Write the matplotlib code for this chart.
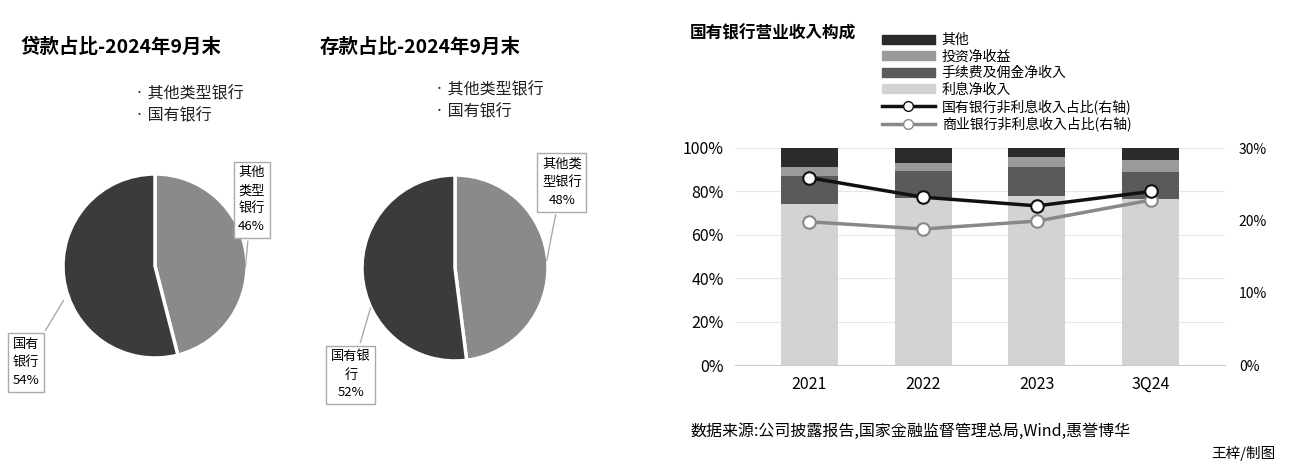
import matplotlib
matplotlib.use("Agg")
import matplotlib.pyplot as plt
import numpy as np
from matplotlib.lines import Line2D
from matplotlib.patches import Patch

plt.rcParams["font.family"] = "sans-serif"
plt.rcParams["font.sans-serif"] = ["Noto Sans CJK JP", "Noto Sans CJK SC", "Noto Sans CJK TC", "Noto Sans CJK KR", "DejaVu Sans"]

pie_labels = ["其他类型银行", "国有银行"]
loan_share = [46, 54]
deposit_share = [48, 52]

years = ["2021", "2022", "2023", "3Q24"]
interest = [74.4, 77.0, 78.0, 76.4]
fee = [12.6, 12.3, 13.3, 12.4]
invest = [4.3, 4.0, 4.6, 5.7]
other = [8.7, 6.7, 4.1, 5.5]
state_nonint = [25.9, 23.2, 22.0, 24.0]
comm_nonint = [19.8, 18.8, 19.9, 22.8]

W, H = 1296, 474
fig = plt.figure(figsize=(W/100, H/100), dpi=100)
def ax_px(x0, y0, x1, y1):
    return fig.add_axes([x0/W, 1-y1/H, (x1-x0)/W, (y1-y0)/H])

pie_cols = ["#8a8a8a", "#3b3b3b"]

def draw_pie(cx, cy, r, vals, title, tx, lab_other, lab_state, pos_other, pos_state, anc_o, anc_s, legx, legy):
    ax = ax_px(cx-r, cy-r, cx+r, cy+r)
    ax.pie(vals, colors=pie_cols, startangle=90, counterclock=False,
           wedgeprops=dict(edgecolor="white", linewidth=2.5), radius=1)
    ax.set_xlim(-1, 1); ax.set_ylim(-1, 1)
    ax.set_aspect("auto")
    for lab, pos, anc in [(lab_other, pos_other, anc_o), (lab_state, pos_state, anc_s)]:
        ax.annotate(lab, xy=anc, xytext=pos, textcoords="data", ha="center", va="center",
                    fontsize=9.5, annotation_clip=False, linespacing=1.5,
                    bbox=dict(boxstyle="square,pad=0.35", fc="white", ec="#aaaaaa", lw=1),
                    arrowprops=dict(arrowstyle="-", color="#aaaaaa", lw=1))
    fig.text(tx/W, 1-47/H, title, fontsize=14, fontweight="bold", va="center")
    fig.text(legx/W, 1-legy/H, "· " + pie_labels[0], fontsize=11.5, va="center", color="#222")
    fig.text(legx/W, 1-(legy+22)/H, "· " + pie_labels[1], fontsize=11.5, va="center", color="#222")

draw_pie(155, 266, 92, loan_share, "贷款占比-2024年9月末", 20,
         "其他\n类型\n银行\n46%", "国有\n银行\n54%", (1.05, 0.72), (-1.40, -1.05), (0.98, -0.05), (-0.98, -0.35), 135, 94)
draw_pie(455, 268, 93, deposit_share, "存款占比-2024年9月末", 320,
         "其他类\n型银行\n48%", "国有银\n行\n52%", (1.15, 0.92), (-1.12, -1.15), (0.98, 0.05), (-0.9, -0.4), 435, 90)

# bar chart
ax = ax_px(735, 148, 1225, 365)
x = np.arange(len(years))
w = 0.5
bot = np.zeros(4)
for vals, c, lab in [(interest, "#d3d3d3", "利息净收入"), (fee, "#5a5a5a", "手续费及佣金净收入"),
                     (invest, "#9a9a9a", "投资净收益"), (other, "#2b2b2b", "其他")]:
    ax.bar(x, vals, w, bottom=bot, color=c, zorder=2)
    bot += np.array(vals)
ax.set_ylim(0, 100)
ax.set_xlim(-0.65, 3.65)
ax.set_yticks(range(0, 101, 20))
ax.set_yticklabels([f"{v}%" for v in range(0, 101, 20)], fontsize=11.5)
ax.set_xticks(x)
ax.set_xticklabels(years, fontsize=11.5)
ax.grid(axis="y", color="#e6e6e6", lw=0.8, zorder=0)
for s in ["top", "right", "left"]:
    ax.spines[s].set_visible(False)
ax.spines["bottom"].set_color("#cccccc")
ax.tick_params(length=0, pad=8)
ax2 = ax.twinx()
ax2.plot(x, comm_nonint, color="#888888", lw=2.5, marker="o", ms=9, mfc="white", mec="#888888", mew=1.5, zorder=3)
ax2.plot(x, state_nonint, color="#111111", lw=2.5, marker="o", ms=9, mfc="white", mec="#111111", mew=1.5, zorder=4)
ax2.set_ylim(0, 30)
ax2.set_yticks([0, 10, 20, 30])
ax2.set_yticklabels(["0%", "10%", "20%", "30%"], fontsize=10)
for s in ["top", "right", "left", "bottom"]:
    ax2.spines[s].set_visible(False)
ax2.tick_params(length=0, pad=10)

fig.text(690/W, 1-33/H, "国有银行营业收入构成", fontsize=12, fontweight="bold", va="center")
handles = [Patch(color="#2b2b2b"), Patch(color="#9a9a9a"), Patch(color="#5a5a5a"), Patch(color="#d3d3d3"),
           Line2D([], [], color="#111111", lw=2.5, marker="o", ms=7, mfc="white"),
           Line2D([], [], color="#888888", lw=2.5, marker="o", ms=7, mfc="white")]
labels = ["其他", "投资净收益", "手续费及佣金净收入", "利息净收入", "国有银行非利息收入占比(右轴)", "商业银行非利息收入占比(右轴)"]
fig.legend(handles, labels, loc="upper left", bbox_to_anchor=(882/W, 1-33/H), frameon=False,
           fontsize=10, handlelength=3.8, handleheight=0.6, handletextpad=0.5,
           labelspacing=0.18, borderpad=0, borderaxespad=0)

fig.text(690/W, 1-431/H, "数据来源:公司披露报告,国家金融监督管理总局,Wind,惠誉博华", fontsize=11.5, va="center")
fig.text(1275/W, 1-453/H, "王梓/制图", fontsize=10.5, va="center", ha="right")
fig.savefig("out.png", dpi=100)
